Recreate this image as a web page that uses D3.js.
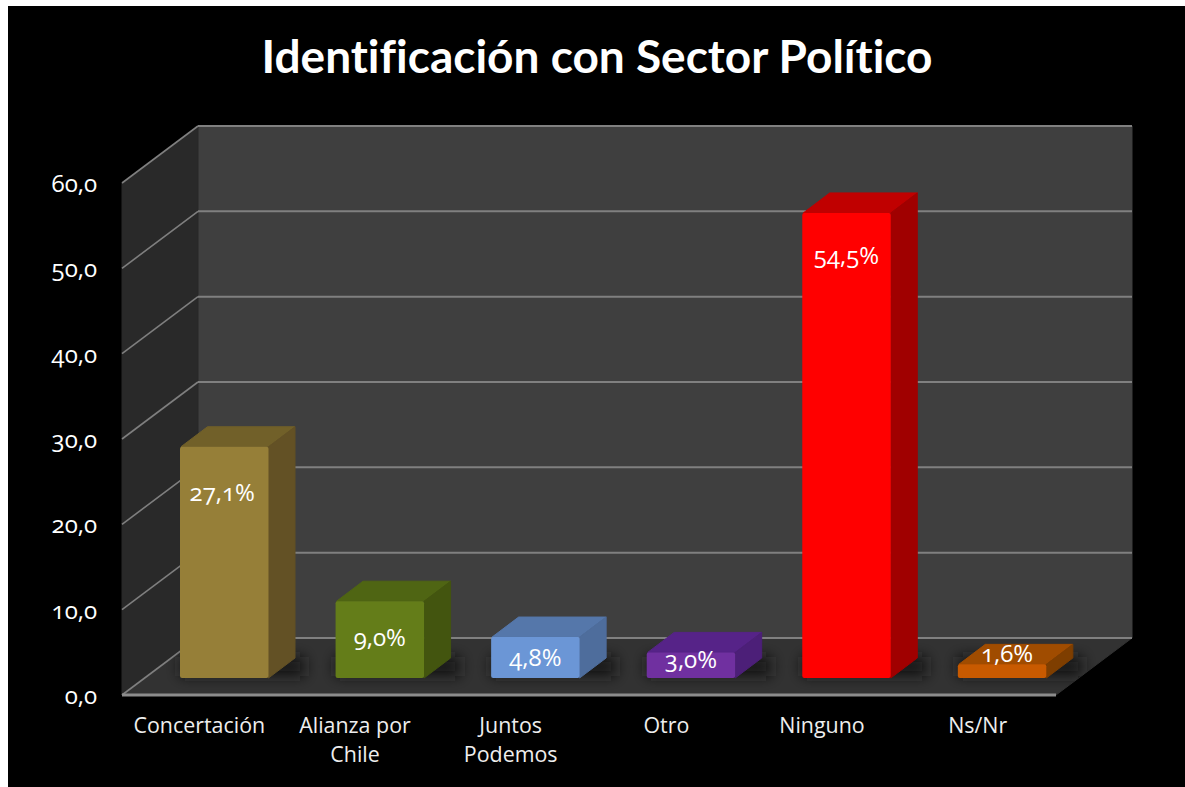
<!DOCTYPE html>
<html><head><meta charset="utf-8">
<script src="https://cdn.jsdelivr.net/npm/d3@7"></script>
<style>html,body{margin:0;background:#fff}svg{display:block}
text{fill:#fff}
.lab{font-family:"Open Sans","Noto Sans",sans-serif;font-feature-settings:"onum" 1;font-size:24px}
.cat{font-family:"Open Sans",sans-serif;font-size:21.4px;fill:#eee}
.ttl{font-family:Lato;font-weight:700;font-size:46px;font-variant-ligatures:none;font-feature-settings:"liga" 0}
</style></head><body><svg id="c" width="1185" height="787"></svg>
<script>
const categories=[["Concertación"],["Alianza por","Chile"],["Juntos","Podemos"],["Otro"],["Ninguno"],["Ns/Nr"]];
const values=[27.1,9.0,4.8,3.0,54.5,1.6];
const valueLabels=["27,1%","9,0%","4,8%","3,0%","54,5%","1,6%"];
const ticks=[0,10,20,30,40,50,60];
const tickLabels=["0,0","10,0","20,0","30,0","40,0","50,0","60,0"];
const frontColors=["#967f38","#647d19","#6b96d6","#7030a0","#ff0000","#c85a00"];
const topColors=["#716029","#4f6513","#5577aa","#562388","#c00000","#a04c00"];
const sideColors=["#635125","#43550f","#4e6d9c","#4c1f78","#a00000","#7e3e00"];
const labelOffsets=[46,37,21,8,43,-10];
const labelShifts=[-2,0,0,0,0,5];

const svg=d3.select("#c");
const defs=svg.append("defs");
defs.append("filter").attr("id","soft").attr("filterUnits","userSpaceOnUse").attr("x",0).attr("y",600).attr("width",1185).attr("height",140)
  .append("feGaussianBlur").attr("stdDeviation",7);
svg.append("rect").attr("x",8).attr("y",6).attr("width",1177).attr("height",781).attr("fill","#000");
const y=d3.scaleLinear().domain([0,60]).range([695,183]);
const x=d3.scaleBand().domain(d3.range(6)).range([122,1056]);
const dx=76,dy=-57,bdx=27.5,bdy=-20;
const L=x.range()[0],R=x.range()[1];
const poly=(g,pts,f)=>g.append("polygon").attr("points",pts.map(p=>p.join(",")).join(" ")).attr("fill",f).attr("stroke",f).attr("stroke-width",1).attr("stroke-linejoin","round");
const floorPts=[[L,y(0)],[L+dx,y(0)+dy],[R+dx,y(0)+dy],[R,y(0)]];
defs.append("clipPath").attr("id","floor").append("polygon").attr("points",floorPts.map(p=>p.join(",")).join(" "));
poly(svg,[[L+dx,y(60)+dy],[R+dx,y(60)+dy],[R+dx,y(0)+dy],[L+dx,y(0)+dy]],"#3f3f3f");
poly(svg,[[L,y(60)],[L+dx,y(60)+dy],[L+dx,y(0)+dy],[L,y(0)]],"#292929");
poly(svg,floorPts,"#323232");
ticks.forEach(t=>{
 svg.append("polyline").attr("points",[[L,y(t)],[L+dx,y(t)+dy]].join(" ")).attr("fill","none").attr("stroke","#7f7f7f").attr("stroke-width",1.6);
 svg.append("polyline").attr("points",[[L+dx,y(t)+dy],[R+dx,y(t)+dy]].join(" ")).attr("fill","none").attr("stroke","#808080").attr("stroke-width",2);
});
svg.append("line").attr("x1",L).attr("x2",R).attr("y1",y(0)).attr("y2",y(0)).attr("stroke","#8c8c8c").attr("stroke-width",3);
const tg=svg.append("g").attr("class","lab");
tickLabels.forEach((s,i)=>tg.append("text").attr("x",97).attr("y",y(ticks[i])+9).attr("text-anchor","end").text(s));
const base=678,bw=88.5;
const h=v=>y(0)-y(v);
const shadows=svg.append("g").attr("clip-path","url(#floor)").append("g").attr("filter","url(#soft)");
values.forEach((v,i)=>{
 const x0=x(i)+58-(i*0.1);
 shadows.append("rect").attr("x",x0).attr("y",base-21).attr("width",bw+36).attr("height",19).attr("fill","#141414");
});
values.forEach((v,i)=>{
 const x0=x(i)+58-(i*0.1), top=base-h(v);
 poly(svg,[[x0+1,top],[x0+bdx,top+bdy],[x0+bw+bdx-1,top+bdy],[x0+bw,top]],topColors[i]);
 poly(svg,[[x0+bw,top],[x0+bw+bdx-1,top+bdy],[x0+bw+bdx-1,base+bdy],[x0+bw,base]],sideColors[i]);
 svg.append("rect").attr("x",x0).attr("y",top).attr("width",bw).attr("height",base-top).attr("rx",2).attr("fill",frontColors[i]);
 svg.append("text").attr("class","lab").attr("x",x0+bw/2+labelShifts[i]).attr("y",top+labelOffsets[i]+8).attr("text-anchor","middle").text(valueLabels[i]);
});
categories.forEach((c,i)=>{
 c.forEach((s,j)=>svg.append("text").attr("class","cat").attr("x",x(i)+x.bandwidth()/2-0.5).attr("y",733+j*29).attr("text-anchor","middle").text(s));
});
svg.append("text").attr("class","ttl").attr("x",597).attr("y",73).attr("text-anchor","middle").text("Identificación con Sector Político");
</script></body></html>
